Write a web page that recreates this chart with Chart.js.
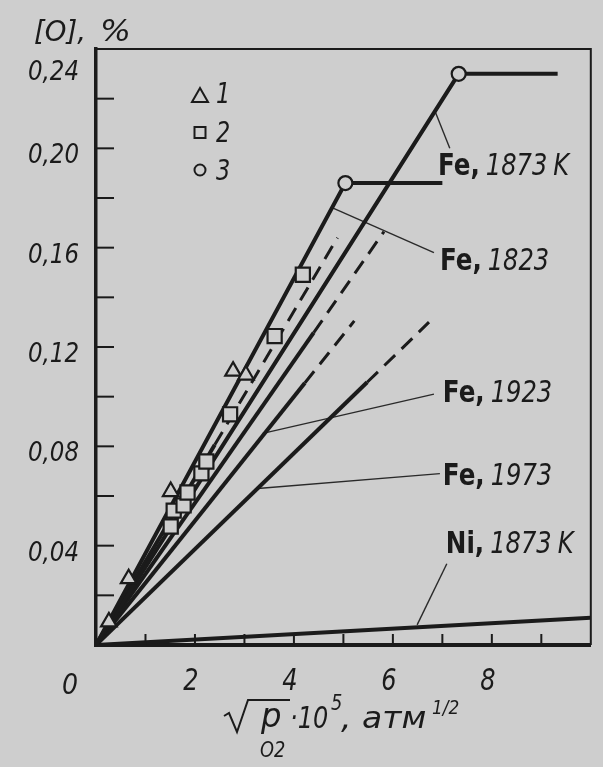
<!DOCTYPE html>
<html><head><meta charset="utf-8">
<script src="https://cdn.jsdelivr.net/npm/chart.js@4.4.1/dist/chart.umd.min.js"></script>
<style>html,body{margin:0;padding:0;background:#cdcdcd;overflow:hidden}</style>
</head><body>
<canvas id="c" width="603" height="767"></canvas>
<script>
// ---------- data ----------
// series 1 (triangles)
const s1X = [0.26, 0.66, 1.51, 2.77, 3.03];
const s1Y = [0.0093, 0.0267, 0.0618, 0.1103, 0.1087];
// series 2 (squares)
const s2X = [1.51, 1.57, 1.77, 1.85, 2.13, 2.23, 2.71, 3.61, 4.18];
const s2Y = [0.0477, 0.0541, 0.0562, 0.0614, 0.0691, 0.0739, 0.0929, 0.1244, 0.1491];
// series 3 (circles – saturation points)
const s3X = [5.04, 7.33];
const s3Y = [0.186, 0.230];
// lines (origin -> break point -> end)
const fe1823X = [0, 5.04, 7.0],  fe1823Y = [0, 0.186, 0.186];
const fe1873X = [0, 7.33, 9.33], fe1873Y = [0, 0.230, 0.230];
const lineAX = [0, 2.4, 4.88],   lineAY = [0, 0.0806, 0.164];
const lineBX = [0, 4.4, 5.82],   lineBY = [0, 0.1258, 0.1665];
const fe1923X = [0, 4.22, 5.22], fe1923Y = [0, 0.1055, 0.1305];
const fe1973X = [0, 5.48, 6.73], fe1973Y = [0, 0.1058, 0.1300];
const niX = [0, 10], niY = [0, 0.011];
// label leader lines (line point -> label)
const leadFe1873X = [6.85, 7.15], leadFe1873Y = [0.215, 0.200];
const leadFe1823X = [4.78, 6.83], leadFe1823Y = [0.176, 0.158];
const leadFe1923X = [3.37, 6.83], leadFe1923Y = [0.0852, 0.1010];
const leadFe1973X = [3.27, 6.95], leadFe1973Y = [0.0630, 0.0690];
const leadNiX = [6.49, 7.09], leadNiY = [0.0081, 0.0327];
// tick labels
const xTickMarks = [1, 2, 3, 4, 5, 6, 7, 8, 9];
const xTickValues = [2, 4, 6, 8];
const xTickLabels = ['2', '4', '6', '8'];
const yTickMarks = [0.02, 0.04, 0.06, 0.08, 0.10, 0.12, 0.14, 0.16, 0.18, 0.20, 0.22];
const yTickValues = [0.04, 0.08, 0.12, 0.16, 0.20, 0.24];
const yTickLabels = ['0,04', '0,08', '0,12', '0,16', '0,20', '0,24'];
// curve labels
const curveNames = ['Fe,', 'Fe,', 'Fe,', 'Fe,', 'Ni,'];
const curveTemps = ['1873 K', '1823', '1923', '1973', '1873 K'];
const legendLabels = ['1', '2', '3'];

// ---------- styling ----------
const BG = '#cecece', INK = '#1b1b1b';
const labelPos = [[6.91, 0.1893], [6.95, 0.1510], [7.01, 0.0979], [7.01, 0.0644], [7.07, 0.0371]];
const mk = (xs, ys) => xs.map((x, i) => ({x: x, y: ys[i]}));
const dashAfter1 = {
  borderDash: c => c.p0DataIndex >= 1 ? [15, 9] : undefined,
  borderWidth: c => c.p0DataIndex >= 1 ? 3 : undefined
};
const lineDs = (xs, ys, dashed) => ({
  data: mk(xs, ys), showLine: true, pointRadius: 0, borderColor: INK,
  borderWidth: 4, borderCapStyle: 'butt', fill: false,
  segment: dashed ? dashAfter1 : {}
});
const leadDs = (xs, ys) => ({
  data: mk(xs, ys), showLine: true, pointRadius: 0, borderColor: '#2a2a2a', borderWidth: 1.4
});
const markDs = (xs, ys, style, r) => ({
  data: mk(xs, ys), showLine: false, pointStyle: style, pointRadius: r,
  pointBorderWidth: 2.2, pointBorderColor: INK, pointBackgroundColor: BG
});

function txt(ctx, s, x, y, font, sx, align) {
  ctx.save();
  ctx.font = font;
  ctx.translate(x, y);
  ctx.scale(sx, 1);
  ctx.textAlign = align || 'left';
  ctx.textBaseline = 'alphabetic';
  ctx.fillText(s, 0, 0);
  const w = ctx.measureText(s).width * sx;
  ctx.restore();
  return w;
}

const deco = {
  id: 'deco',
  beforeDraw(chart) {
    const ctx = chart.ctx;
    ctx.save(); ctx.fillStyle = BG; ctx.fillRect(0, 0, chart.width, chart.height); ctx.restore();
  },
  afterDatasetsDraw(chart) {
    const ctx = chart.ctx, xs = chart.scales.x, ys = chart.scales.y, a = chart.chartArea;
    ctx.save();
    ctx.strokeStyle = INK; ctx.fillStyle = INK;
    // frame top / right
    ctx.lineWidth = 2;
    ctx.beginPath(); ctx.moveTo(a.left, a.top); ctx.lineTo(a.right, a.top); ctx.lineTo(a.right, a.bottom); ctx.stroke();
    // inward ticks
    ctx.lineWidth = 2;
    yTickMarks.forEach(v => { const p = ys.getPixelForValue(v); ctx.beginPath(); ctx.moveTo(a.left, p); ctx.lineTo(a.left + 18, p); ctx.stroke(); });
    xTickMarks.forEach(v => { const p = xs.getPixelForValue(v); ctx.beginPath(); ctx.moveTo(p, a.bottom); ctx.lineTo(p, a.bottom - 11); ctx.stroke(); });
    // tick labels
    yTickValues.forEach((v, i) => {
      const p = Math.max(ys.getPixelForValue(v) + 5, a.top + 21);
      txt(ctx, yTickLabels[i], a.left - 17, p + 10, 'italic 27px "DejaVu Sans"', 0.85, 'right');
    });
    txt(ctx, '0', a.left - 26, a.bottom + 49, 'italic 28px "DejaVu Sans"', 0.9, 'center');
    xTickValues.forEach((v, i) => {
      txt(ctx, xTickLabels[i], xs.getPixelForValue(v) - 4, a.bottom + 45, 'italic 30px "DejaVu Sans"', 0.8, 'center');
    });
    // y title
    let w = txt(ctx, '[O],', 34, 41, 'italic 29px "DejaVu Sans"', 0.95);
    txt(ctx, '%', 34 + w + 14, 41, 'italic 31px "DejaVu Sans"', 1.05);
    // x title
    ctx.lineWidth = 2;
    ctx.beginPath();
    ctx.moveTo(224, 716); ctx.lineTo(229, 713); ctx.lineTo(237, 732); ctx.lineTo(248, 700); ctx.lineTo(290, 700);
    ctx.stroke();
    txt(ctx, 'p', 261, 727, 'italic 34px "DejaVu Sans"', 0.95);
    txt(ctx, 'O', 260, 757, 'italic 21px "DejaVu Sans"', 0.85);
    txt(ctx, '2', 274, 757, 'italic 21px "DejaVu Sans"', 0.85);
    txt(ctx, '·10', 290, 728, 'italic 30px "DejaVu Sans"', 0.8);
    txt(ctx, '5', 331, 710, 'italic 21px "DejaVu Sans"', 0.85);
    txt(ctx, ', атм', 341, 728, 'italic 30px "DejaVu Sans"', 1.1);
    txt(ctx, '1/2', 432, 714, 'italic 20px "DejaVu Sans"', 0.85);
    // curve labels
    curveNames.forEach((n, i) => {
      const x = xs.getPixelForValue(labelPos[i][0]), y = ys.getPixelForValue(labelPos[i][1]);
      const w1 = txt(ctx, n, x, y, 'bold 30px "DejaVu Sans"', 0.82);
      const parts = curveTemps[i].split(' ');
      const w2 = txt(ctx, parts[0], x + w1 + 6, y, 'italic 31px "DejaVu Sans"', 0.78);
      if (parts[1]) txt(ctx, parts[1], x + w1 + 6 + w2 + 6, y, 'italic 31px "DejaVu Sans"', 0.78);
    });
    // legend
    const lx = a.left + 104, ly = a.top + 47;
    ctx.lineWidth = 2;
    ctx.beginPath(); ctx.moveTo(lx, ly - 8); ctx.lineTo(lx + 8, ly + 6); ctx.lineTo(lx - 8, ly + 6); ctx.closePath(); ctx.stroke();
    ctx.strokeRect(lx - 5.5, ly + 31, 11, 11);
    ctx.beginPath(); ctx.arc(lx, ly + 74, 5.5, 0, Math.PI * 2); ctx.stroke();
    txt(ctx, legendLabels[0], lx + 16, ly + 7, 'italic 28px "DejaVu Sans"', 0.8);
    txt(ctx, legendLabels[1], lx + 16, ly + 46, 'italic 28px "DejaVu Sans"', 0.8);
    txt(ctx, legendLabels[2], lx + 16, ly + 84, 'italic 28px "DejaVu Sans"', 0.8);
    ctx.restore();
  }
};

new Chart(document.getElementById('c'), {
  type: 'scatter',
  data: { datasets: [
    markDs(s1X, s1Y, 'triangle', 9),
    markDs(s2X, s2Y, 'rect', 10),
    markDs(s3X, s3Y, 'circle', 7),
    lineDs(fe1823X, fe1823Y, false),
    lineDs(fe1873X, fe1873Y, false),
    lineDs(lineAX, lineAY, true),
    lineDs(lineBX, lineBY, true),
    lineDs(fe1923X, fe1923Y, true),
    lineDs(fe1973X, fe1973Y, true),
    lineDs(niX, niY, false),
    leadDs(leadFe1873X, leadFe1873Y),
    leadDs(leadFe1823X, leadFe1823Y),
    leadDs(leadFe1923X, leadFe1923Y),
    leadDs(leadFe1973X, leadFe1973Y),
    leadDs(leadNiX, leadNiY)
  ]},
  options: {
    responsive: false, devicePixelRatio: 1, animation: false,
    layout: { padding: { left: 96, right: 9, top: 49, bottom: 122 } },
    plugins: { legend: { display: false }, tooltip: { enabled: false } },
    scales: {
      x: { type: 'linear', min: 0, max: 10, ticks: { display: false }, grid: { display: false },
           border: { display: true, color: INK, width: 4 },
           afterFit: s => { s.height = 0; } },
      y: { type: 'linear', min: 0, max: 0.24, ticks: { display: false }, grid: { display: false },
           border: { display: true, color: INK, width: 3.5 },
           afterFit: s => { s.width = 0; } }
    }
  },
  plugins: [deco]
});
</script>
</body></html>
